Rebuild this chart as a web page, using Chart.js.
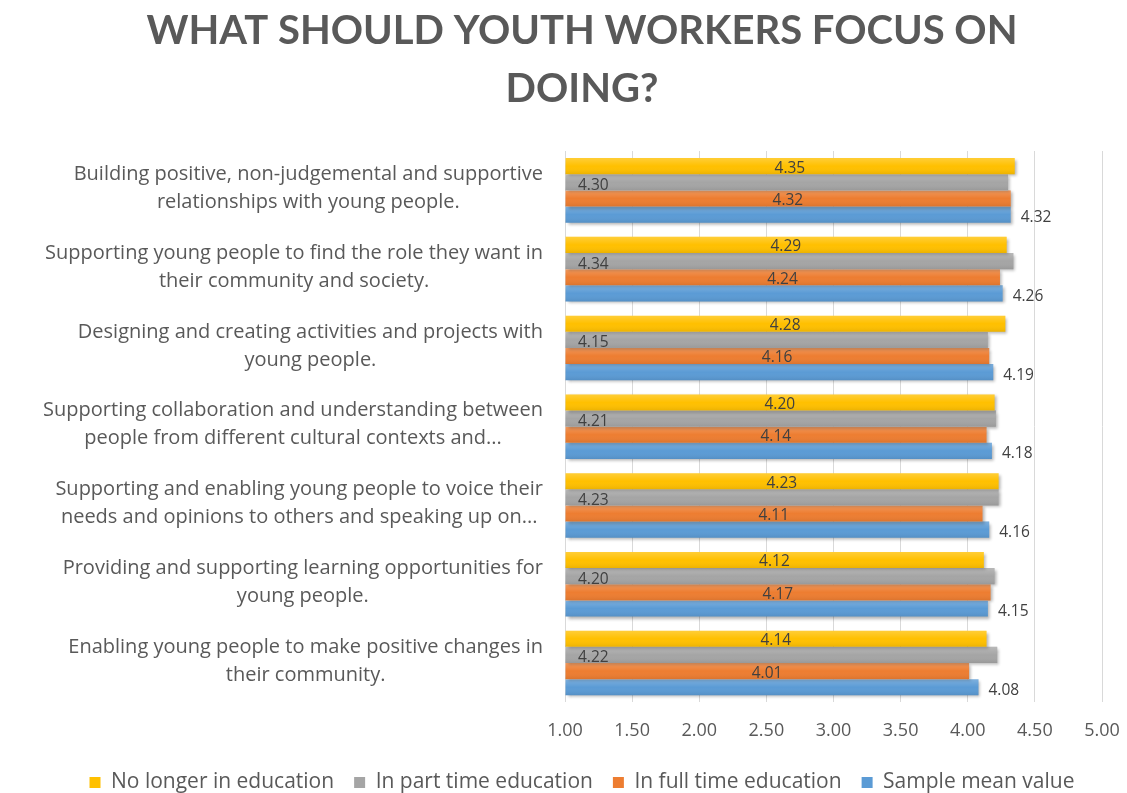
<!DOCTYPE html>
<html>
<head>
<meta charset="utf-8">
<script src="https://cdn.jsdelivr.net/npm/chart.js@4"></script>
<style>
  html, body { margin: 0; padding: 0; background: #fff; }
  #wrap { width: 1127px; height: 793px; }
</style>
</head>
<body>
<div id="wrap"><canvas id="grafico"></canvas></div>
<script>
var categorias = [
    ['Building positive, non-judgemental and supportive', 'relationships with young people.'],
    ['Supporting young people to find the role they want in', 'their community and society.'],
    ['Designing and creating activities and projects with', 'young people.'],
    ['Supporting collaboration and understanding between', 'people from different cultural contexts and...'],
    ['Supporting and enabling young people to voice their', 'needs and opinions to others and speaking up on...'],
    ['Providing and supporting learning opportunities for', 'young people.'],
    ['Enabling young people to make positive changes in', 'their community.']
];
var noLonger   = [4.35, 4.29, 4.28, 4.20, 4.23, 4.12, 4.14];
var partTime   = [4.30, 4.34, 4.15, 4.21, 4.23, 4.20, 4.22];
var fullTime   = [4.32, 4.24, 4.16, 4.14, 4.11, 4.17, 4.01];
var sampleMean = [4.32, 4.26, 4.19, 4.18, 4.16, 4.15, 4.08];
var ticksX = [1.00, 1.50, 2.00, 2.50, 3.00, 3.50, 4.00, 4.50, 5.00];

var cinza = '#595959';
var fonteEixo = '20px "Open Sans"';

// sombra + brilho nas barras
var sombra = {
    id: 'sombra',
    beforeDatasetsDraw: function(chart) {
        var c = chart.ctx;
        c.save();
        c.shadowColor = 'rgba(0,0,0,0.30)';
        c.shadowBlur = 3;
        c.shadowOffsetX = 2;
        c.shadowOffsetY = 2;
    },
    afterDatasetsDraw: function(chart) {
        var c = chart.ctx;
        c.restore();
        var esq = chart.chartArea.left;
        chart.data.datasets.forEach(function(ds, i) {
            chart.getDatasetMeta(i).data.forEach(function(bar) {
                var top = bar.y - bar.height / 2;
                var g = c.createLinearGradient(0, top, 0, top + bar.height);
                g.addColorStop(0, 'rgba(255,255,255,0.22)');
                g.addColorStop(0.5, 'rgba(255,255,255,0)');
                g.addColorStop(1, 'rgba(0,0,0,0.08)');
                c.fillStyle = g;
                c.fillRect(esq, top, bar.x - esq, bar.height);
            });
        });
    }
};

// centraliza titulo e legenda como no original
var desloca = {
    id: 'desloca',
    afterLayout: function(chart) {
        var dx = 26;
        chart.titleBlock.left += dx;
        chart.titleBlock.right += dx;
        chart.legend.left += dx;
        chart.legend.right += dx;
        chart.legend.top -= 8;
        chart.legend.bottom -= 8;
    }
};

// rotulos das categorias: bloco alinhado a direita, linhas centralizadas
var categoriasEixo = {
    id: 'categoriasEixo',
    afterDraw: function(chart) {
        var c = chart.ctx;
        var ys = chart.scales.y;
        var dir = chart.chartArea.left - 22;
        c.save();
        c.font = fonteEixo;
        c.fillStyle = cinza;
        c.textAlign = 'center';
        c.textBaseline = 'middle';
        chart.data.labels.forEach(function(linhas, j) {
            var larg = Math.max.apply(null, linhas.map(function(t) { return c.measureText(t).width; }));
            var cx = dir - larg / 2;
            var cy = ys.getPixelForTick(j) - 2;
            linhas.forEach(function(t, k) {
                c.fillText(t, cx, cy + (k - (linhas.length - 1) / 2) * 28);
            });
        });
        c.restore();
    }
};

// rotulos de valores
var rotulos = {
    id: 'rotulos',
    afterDraw: function(chart) {
        var c = chart.ctx;
        var esq = chart.chartArea.left;
        c.save();
        c.font = '15.5px "Open Sans"';
        c.fillStyle = '#404040';
        c.textBaseline = 'middle';
        chart.data.datasets.forEach(function(ds, i) {
            var meta = chart.getDatasetMeta(i);
            meta.data.forEach(function(bar, j) {
                var txt = ds.data[j].toFixed(2);
                if (i === 0 || i === 2) {
                    c.textAlign = 'center';
                    c.fillText(txt, (esq + bar.x) / 2, bar.y + 2);
                } else if (i === 1) {
                    c.textAlign = 'left';
                    c.fillText(txt, esq + 13, bar.y + 3);
                } else {
                    c.textAlign = 'left';
                    c.fillText(txt, bar.x + 10, bar.y + 3);
                }
            });
        });
        c.restore();
    }
};

var ctx = document.getElementById('grafico').getContext('2d');
var grafico = new Chart(ctx, {
    type: 'bar',
    data: {
        labels: categorias,
        datasets: [{
            label: 'No longer in education',
            data: noLonger,
            backgroundColor: '#FFC000'
        },
        {
            label: 'In part time education',
            data: partTime,
            backgroundColor: '#A5A5A5'
        },
        {
            label: 'In full time education',
            data: fullTime,
            backgroundColor: '#ED7D31'
        },
        {
            label: 'Sample mean value',
            data: sampleMean,
            backgroundColor: '#5B9BD5'
        }]
    },
    plugins: [desloca, sombra, categoriasEixo, rotulos],
    options: {
        indexAxis: 'y',
        responsive: true,
        maintainAspectRatio: false,
        animation: false,
        categoryPercentage: 0.82,
        barPercentage: 1.0,
        base: 1,
        layout: {
            padding: { left: 10, right: 25, top: 2, bottom: -18 }
        },
        scales: {
            x: {
                min: 1,
                max: 5,
                afterBuildTicks: function(axis) {
                    axis.ticks = ticksX.map(function(v) { return { value: v }; });
                },
                afterFit: function(axis) {
                    axis.paddingLeft = 0;
                    axis.paddingRight = 0;
                },
                grid: { color: '#D9D9D9', drawTicks: false },
                border: { display: false },
                ticks: {
                    padding: 18,
                    color: cinza,
                    font: { family: 'Open Sans', size: 18 },
                    callback: function(v) { return Number(v).toFixed(2); }
                }
            },
            y: {
                afterFit: function(axis) { axis.width = 555; },
                grid: { display: false, drawTicks: false },
                border: { display: false },
                ticks: { display: false }
            }
        },
        plugins: {
            title: {
                display: true,
                text: ['WHAT SHOULD YOUTH WORKERS FOCUS ON', 'DOING?'],
                color: cinza,
                font: { family: 'Lato', size: 40, weight: 'bold', lineHeight: 1.45 },
                padding: { top: 0, bottom: 33 }
            },
            legend: {
                position: 'bottom',
                labels: {
                    color: cinza,
                    font: { family: 'Open Sans', size: 21 },
                    boxWidth: 11,
                    boxHeight: 11,
                    padding: 20
                }
            },
            tooltip: { enabled: false }
        }
    }
});
</script>
</body>
</html>
